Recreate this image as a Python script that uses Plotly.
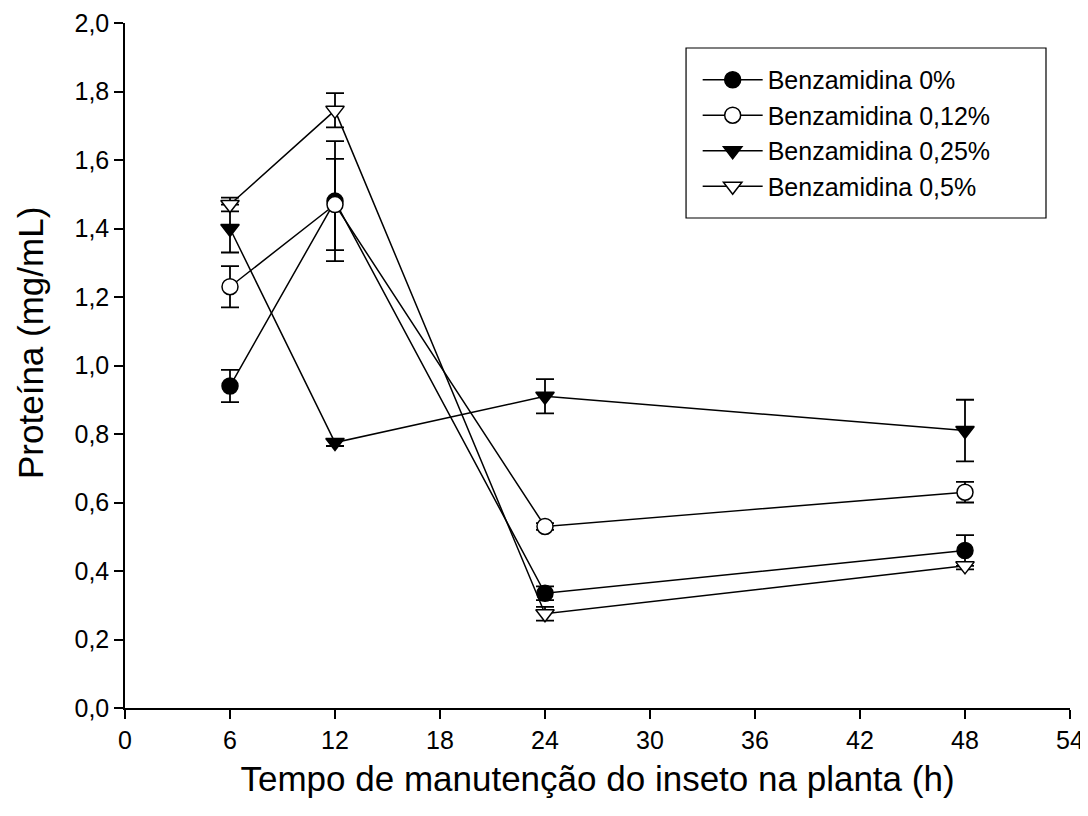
import plotly.graph_objects as go

tempo = [6, 12, 24, 48]

benz_0 = [0.94, 1.48, 0.335, 0.46]
benz_0_err = [0.047, 0.175, 0.02, 0.045]

benz_012 = [1.23, 1.47, 0.53, 0.63]
benz_012_err = [0.06, 0.133, 0.01, 0.03]

benz_025 = [1.40, 0.775, 0.91, 0.81]
benz_025_err = [0.07, 0.01, 0.05, 0.09]

benz_05 = [1.47, 1.745, 0.275, 0.415]
benz_05_err = [0.02, 0.05, 0.02, 0.01]

series = [
    ("Benzamidina 0%", benz_0, benz_0_err, "circle", "black"),
    ("Benzamidina 0,12%", benz_012, benz_012_err, "circle", "white"),
    ("Benzamidina 0,25%", benz_025, benz_025_err, "triangle-down", "black"),
    ("Benzamidina 0,5%", benz_05, benz_05_err, "triangle-down", "white"),
]

fig = go.Figure()
for name, y, err, sym, fill in series:
    fig.add_trace(go.Scatter(
        x=tempo, y=y, name=name, mode="lines+markers",
        line=dict(color="black", width=1.5),
        marker=dict(symbol=sym, size=16, color=fill, line=dict(color="black", width=1.5)),
        error_y=dict(type="data", array=err, visible=True, color="black", thickness=1.8, width=9),
    ))

# legend frame
fig.add_shape(type="rect", xref="paper", yref="paper",
              x0=0.5937, x1=0.9746, y0=0.7153, y1=0.9635,
              line=dict(color="black", width=1.2), fillcolor="rgba(0,0,0,0)", layer="above")

fig.add_annotation(
    text="Proteína (mg/mL)", textangle=-90, xref="paper", yref="paper",
    x=(30 - 125) / 945, y=(708 - 343) / 685, xanchor="center", yanchor="middle",
    showarrow=False, font=dict(size=35),
)

fig.update_layout(
    width=1088, height=816,
    paper_bgcolor="white", plot_bgcolor="white",
    margin=dict(l=117, r=26, t=15, b=116),
    font=dict(family="Liberation Sans, Arial, sans-serif", color="black", size=25),
    showlegend=True,
    legend=dict(
        x=0.606, y=0.9504, xanchor="left", yanchor="top",
        borderwidth=0, bgcolor="rgba(0,0,0,0)",
        font=dict(size=25), itemwidth=60, tracegroupgap=0,
    ),
    xaxis=dict(
        range=[0, 54], tickmode="array", tickvals=list(range(0, 55, 6)),
        ticks="outside", ticklen=9, tickwidth=1.5, tickcolor="black",
        showline=True, linecolor="black", linewidth=1.5, showgrid=False, zeroline=False,
        automargin=False,
        title=dict(text="Tempo de manutenção do inseto na planta (h)", font=dict(size=35), standoff=14),
        tickfont=dict(size=25),
    ),
    yaxis=dict(
        range=[0, 2.0], tickmode="array", tickvals=[i / 5 for i in range(11)],
        ticktext=[f"{i / 5:.1f}".replace(".", ",") for i in range(11)],
        ticks="outside", ticklen=9, tickwidth=1.5, tickcolor="black",
        showline=True, linecolor="black", linewidth=1.5, showgrid=False, zeroline=False,
        automargin=False,
        tickfont=dict(size=25),
    ),
)

fig.write_html("out.html")
